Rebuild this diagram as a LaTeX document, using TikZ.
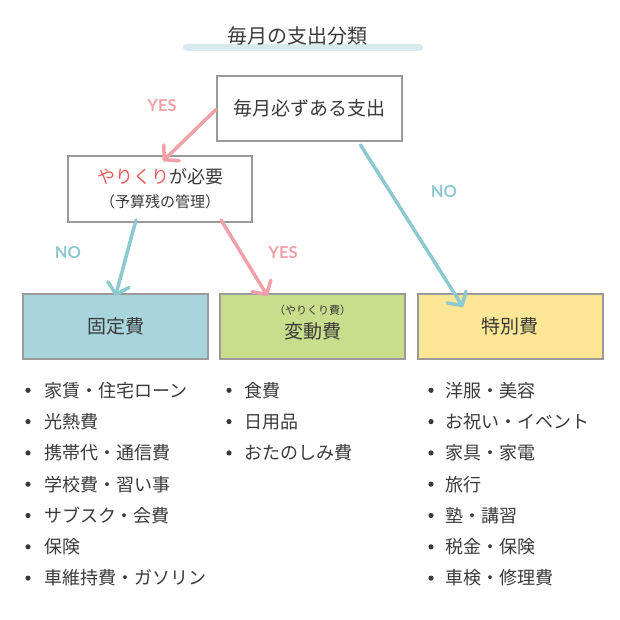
\documentclass[tikz,border=0pt]{standalone}
\usepackage{fontspec}
\setmainfont{Noto Sans CJK JP}
\newfontfamily\yesnofont{Lato}
\usetikzlibrary{arrows.meta}
\definecolor{ink}{HTML}{3A3A3A}
\definecolor{frame}{HTML}{9A9A9A}
\definecolor{pinkline}{HTML}{F0A0A8}
\definecolor{tealline}{HTML}{8CCAD0}
\definecolor{redtext}{HTML}{F05A5A}
\definecolor{fixedfill}{HTML}{A8D4DC}
\definecolor{varfill}{HTML}{C8DE8C}
\definecolor{specfill}{HTML}{FAE694}
\definecolor{titlebar}{HTML}{D8EAEE}
\tikzstyle{box}=[rectangle, draw=frame, line width=2pt, fill=white, minimum width=185pt, minimum height=65pt, inner sep=0pt, text=ink, font=\fontsize{19}{22}\selectfont]
\tikzstyle{item}=[anchor=west, inner sep=0pt, text=ink, font=\fontsize{18}{22}\selectfont]
\tikzstyle{yesarrow}=[draw=pinkline, line width=3.5pt, line cap=round, -{Straight Barb[length=10pt, width=22pt, round]}]
\tikzstyle{noarrow}=[yesarrow, draw=tealline]
\tikzstyle{yeslabel}=[text=pinkline, font=\yesnofont\bfseries\fontsize{16.5}{18}\selectfont]
\tikzstyle{nolabel}=[yeslabel, text=tealline]

\begin{document}
\begin{tikzpicture}[x=1pt, y=-1pt]
    \useasboundingbox (0,0) rectangle (620,620);
    % title
    \fill[titlebar, rounded corners=3.5pt] (183,44) rectangle (423,51);
    \node[text=ink, font=\fontsize{20}{24}\selectfont] (title) at (297,36) {毎月の支出分類};
    % decision boxes
    \node[box] (monthly) at (309.5,108.5) {毎月必ずある支出};
    \node[box, minimum width=184pt, minimum height=66pt, align=center, font=\fontsize{18}{22}\selectfont] (budget) at (160,189)
        {\textcolor{redtext}{やりくり}が必要\\[2pt]{\fontsize{15}{18}\selectfont （予算残の管理）}};
    % categories
    \node[box, fill=fixedfill] (fixed) at (115.5,326.5) {固定費};
    \node[box, fill=varfill] (variable) at (312.5,326.5) {};
    \node[text=ink, font=\fontsize{11}{13}\selectfont, inner sep=0pt] (varsub) at (312.5,310) {（やりくり費）};
    \node[text=ink, font=\fontsize{19}{22}\selectfont, inner sep=0pt] (varname) at (312.5,331) {変動費};
    \node[box, fill=specfill] (special) at (510,326.5) {特別費};
    % connectors
    \draw[yesarrow] ([yshift=-1pt]monthly.west) -- ([xshift=3pt, yshift=-6pt]budget.north);
    \node[yeslabel] (yes1) at (162,106) {YES};
    \draw[noarrow] ([xshift=51pt, yshift=-3pt]monthly.south) -- ([xshift=-47pt, yshift=-14pt]special.north);
    \node[nolabel] (no1) at (444,192) {NO};
    \draw[noarrow] ([xshift=-24pt, yshift=3pt]budget.south) -- ([yshift=-3pt]fixed.north);
    \node[nolabel] (no2) at (68,253) {NO};
    \draw[yesarrow] ([xshift=61pt, yshift=3pt]budget.south) -- ([xshift=-45pt, yshift=-3pt]variable.north);
    \node[yeslabel] (yes2) at (283,253) {YES};
    % lists
    \foreach \t [count=\i] in {家賃・住宅ローン, 光熱費, 携帯代・通信費, 学校費・習い事, サブスク・会費, 保険, 車維持費・ガソリン} {
        \fill[ink] (28,359+31.3*\i) circle (2.6pt);
        \node[item] (f\i) at (44,359+31.3*\i) {\t};
    }
    \foreach \t [count=\i] in {食費, 日用品, おたのしみ費} {
        \fill[ink] (229,359+31.3*\i) circle (2.6pt);
        \node[item] (v\i) at (244,359+31.3*\i) {\t};
    }
    \foreach \t [count=\i] in {洋服・美容, お祝い・イベント, 家具・家電, 旅行, 塾・講習, 税金・保険, 車検・修理費} {
        \fill[ink] (431,359+31.3*\i) circle (2.6pt);
        \node[item] (s\i) at (445,359+31.3*\i) {\t};
    }
\end{tikzpicture}
\end{document}
